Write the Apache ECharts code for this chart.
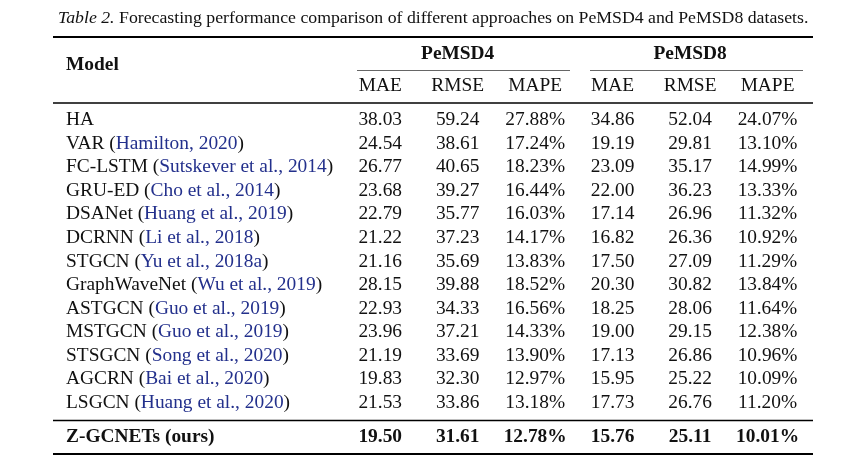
<!DOCTYPE html>
<html>
<head>
<meta charset="utf-8">
<script src="https://cdn.jsdelivr.net/npm/echarts@6/dist/echarts.min.js"></script>
<style>html,body{margin:0;padding:0;background:#fff}#c{width:860px;height:464px}</style>
</head>
<body>
<div id="c"></div>
<script>
// ---- data ----
const models = ['HA','VAR','FC-LSTM','GRU-ED','DSANet','DCRNN','STGCN','GraphWaveNet','ASTGCN','MSTGCN','STSGCN','AGCRN','LSGCN'];
const cites = ['','Hamilton, 2020','Sutskever et al., 2014','Cho et al., 2014','Huang et al., 2019','Li et al., 2018','Yu et al., 2018a','Wu et al., 2019','Guo et al., 2019','Guo et al., 2019','Song et al., 2020','Bai et al., 2020','Huang et al., 2020'];
const metrics = ['MAE','RMSE','MAPE','MAE ','RMSE ','MAPE '];
const datasets = ['PeMSD4','PeMSD8'];
const pems4MAE  = [38.03,24.54,26.77,23.68,22.79,21.22,21.16,28.15,22.93,23.96,21.19,19.83,21.53];
const pems4RMSE = [59.24,38.61,40.65,39.27,35.77,37.23,35.69,39.88,34.33,37.21,33.69,32.30,33.86];
const pems4MAPE = [27.88,17.24,18.23,16.44,16.03,14.17,13.83,18.52,16.56,14.33,13.90,12.97,13.18];
const pems8MAE  = [34.86,19.19,23.09,22.00,17.14,16.82,17.50,20.30,18.25,19.00,17.13,15.95,17.73];
const pems8RMSE = [52.04,29.81,35.17,36.23,26.96,26.36,27.09,30.82,28.06,29.15,26.86,25.22,26.76];
const pems8MAPE = [24.07,13.10,14.99,13.33,11.32,10.92,11.29,13.84,11.64,12.38,10.96,10.09,11.20];
const oursName = 'Z-GCNETs (ours)';
const oursValues = [19.50,31.61,12.78,15.76,25.11,10.01];
const isPercent = [false,false,true,false,false,true];

// ---- build ----
const FONT = '"Liberation Serif","DejaVu Serif",serif';
const FS = 19.4;
const BLUE = '#23308c';
const INK = '#111';
const columns = [pems4MAE,pems4RMSE,pems4MAPE,pems8MAE,pems8RMSE,pems8MAPE];
const fmt = (v, c) => v.toFixed(2) + (isPercent[c] ? '%' : '');

const cells = [];
columns.forEach((col, c) => col.forEach((v, r) => cells.push({value:[c, r], text: fmt(v, c)})));
const oursCells = oursValues.map((v, c) => ({value:[c, 0], text: fmt(v, c)}));

const cellLabel = {show:true, position:'inside', formatter:p=>p.data.text, fontFamily:FONT, fontSize:FS,
  color:INK, opacity:1, textBorderWidth:0, textShadowBlur:0};

const L = 341.5, R = 53.7;
const chart = echarts.init(document.getElementById('c'), null, {renderer:'canvas'});
chart.setOption({
  backgroundColor:'#fff',
  animation:false,
  textStyle:{fontFamily:FONT},
  title:[
    {left:58, top:9, padding:0,
     text:'{i|Table 2.} {n|Forecasting performance comparison of different approaches on PeMSD4 and PeMSD8 datasets.}',
     textStyle:{fontWeight:'normal', rich:{
       i:{fontFamily:FONT,fontStyle:'italic',fontWeight:'normal',fontSize:17.75,color:INK},
       n:{fontFamily:FONT,fontWeight:'normal',fontSize:17.75,color:INK}
     }}},
    {left:66, top:55, padding:0, text:'Model',
     textStyle:{fontFamily:FONT, fontSize:FS, fontWeight:'bold', color:INK}}
  ],
  grid:[
    {left:L, right:R, top:108.2, height:306.5},
    {left:L, right:R, top:422, height:30}
  ],
  xAxis:[
    {gridIndex:0, type:'category', data:metrics, position:'top',
     axisLine:{show:false}, axisTick:{show:false}, splitLine:{show:false},
     axisLabel:{margin:22, verticalAlign:'middle', fontFamily:FONT, fontSize:FS, color:INK, formatter:v=>v.trim()}},
    {gridIndex:0, type:'category', data:datasets, position:'top',
     axisLine:{show:false}, axisTick:{show:false}, splitLine:{show:false},
     axisLabel:{margin:54, verticalAlign:'middle', fontFamily:FONT, fontSize:FS, fontWeight:'bold', color:INK}},
    {gridIndex:1, type:'category', data:metrics, show:false}
  ],
  yAxis:[
    {gridIndex:0, type:'category', data:models, inverse:true,
     axisLine:{show:false}, axisTick:{show:false}, splitLine:{show:false},
     axisLabel:{margin:275.5, align:'left', verticalAlign:'middle',
       formatter:(v, i) => cites[i] ? '{n|' + v + ' (}{c|' + cites[i] + '}{n|)}' : '{n|' + v + '}',
       rich:{n:{fontFamily:FONT,fontSize:FS,color:INK}, c:{fontFamily:FONT,fontSize:FS,color:BLUE}}}},
    {gridIndex:1, type:'category', data:[oursName], inverse:true,
     axisLine:{show:false}, axisTick:{show:false}, splitLine:{show:false},
     axisLabel:{margin:275.5, align:'left', verticalAlign:'middle', fontFamily:FONT, fontSize:FS, fontWeight:'bold', color:INK}}
  ],
  series:[
    {type:'scatter', xAxisIndex:0, yAxisIndex:0, data:cells, symbolSize:0.1, silent:true,
     itemStyle:{color:'#fff'}, label:cellLabel},
    {type:'scatter', xAxisIndex:2, yAxisIndex:1, data:oursCells, symbolSize:0.1, silent:true,
     itemStyle:{color:'#fff'}, label:Object.assign({}, cellLabel, {fontWeight:'bold'})}
  ],
  graphic:[
    {type:'line', shape:{x1:53,y1:37,x2:813,y2:37}, style:{stroke:'#000',lineWidth:2}},
    {type:'line', shape:{x1:357,y1:70.5,x2:570,y2:70.5}, style:{stroke:'#666',lineWidth:1}},
    {type:'line', shape:{x1:590,y1:70.5,x2:803,y2:70.5}, style:{stroke:'#666',lineWidth:1}},
    {type:'line', shape:{x1:53,y1:103,x2:813,y2:103}, style:{stroke:'#000',lineWidth:1.3}},
    {type:'line', shape:{x1:53,y1:420.5,x2:813,y2:420.5}, style:{stroke:'#000',lineWidth:1.3}},
    {type:'line', shape:{x1:53,y1:454,x2:813,y2:454}, style:{stroke:'#000',lineWidth:2}}
  ]
});
</script>
</body>
</html>
